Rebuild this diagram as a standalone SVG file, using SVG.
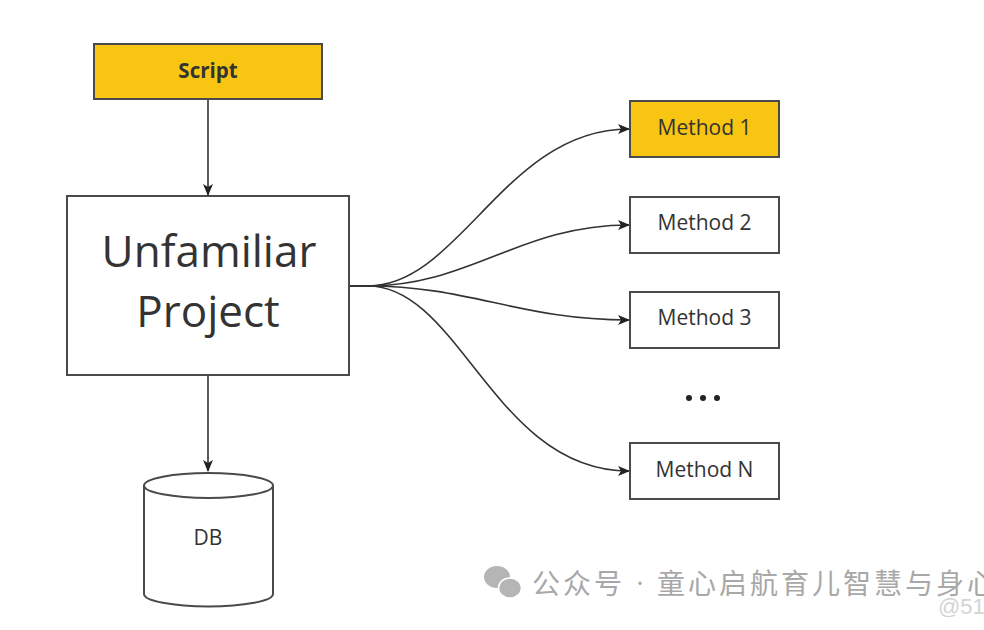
<svg xmlns="http://www.w3.org/2000/svg" width="984" height="630" viewBox="0 0 984 630">
  <defs>
    <marker id="arr" viewBox="0 0 12 10" refX="11" refY="5" markerWidth="12" markerHeight="10" markerUnits="userSpaceOnUse" orient="auto">
      <path d="M0,0 L12,5 L0,10 L3,5 Z" fill="#222"/>
    </marker>
    <style>
      .box { stroke: #4a4a4a; stroke-width: 2; }
      .yel { fill: #F8C512; }
      .wht { fill: #fff; }
      .lbl { font-family: "Open Sans", "Noto Sans", sans-serif; fill: #333; text-anchor: middle; }
      .conn { fill: none; stroke: #333; stroke-width: 1.6; marker-end: url(#arr); }
      .wm { font-family: "Noto Sans CJK SC", "Noto Sans", sans-serif; fill: #a8a8a8; }
    </style>
  </defs>
  <rect width="984" height="630" fill="#fff"/>

  <g id="connectors">
    <path class="conn" d="M208,99 L208,195"/>
    <path class="conn" d="M208,375 L208,471"/>
    <path class="conn" d="M349,286 L368,286 C460,286 505,129 629,129"/>
    <path class="conn" d="M349,286 L368,286 C470,286 520,225 629,225"/>
    <path class="conn" d="M349,286 L368,286 C470,286 520,320 629,320"/>
    <path class="conn" d="M349,286 L368,286 C460,286 495,471 629,471"/>
  </g>

  <g id="script">
    <rect class="box yel" x="94" y="44" width="228" height="55"/>
    <text class="lbl" x="208" y="78" font-size="20.5" font-weight="bold" fill="#222">Script</text>
  </g>

  <g id="project">
    <rect class="box wht" x="67" y="196" width="282" height="179"/>
    <text class="lbl" x="209" y="267" font-size="44">Unfamiliar</text>
    <text class="lbl" x="208" y="327" font-size="44">Project</text>
  </g>

  <g id="db">
    <path class="box wht" d="M144,485.5 L144,594 A64.5,12.5 0 0 0 273,594 L273,485.5"/>
    <ellipse class="box wht" cx="208.5" cy="485.5" rx="64.5" ry="12.5"/>
    <text class="lbl" x="208" y="545" font-size="21">DB</text>
  </g>

  <g id="method1">
    <rect class="box yel" x="630" y="101" width="149" height="56"/>
    <text class="lbl" x="704.5" y="135" font-size="21">Method 1</text>
  </g>
  <g id="method2">
    <rect class="box wht" x="630" y="197" width="149" height="56"/>
    <text class="lbl" x="704.5" y="230" font-size="21">Method 2</text>
  </g>
  <g id="method3">
    <rect class="box wht" x="630" y="292" width="149" height="56"/>
    <text class="lbl" x="704.5" y="325" font-size="21">Method 3</text>
  </g>
  <g id="ellipsis">
    <circle cx="689" cy="398" r="3" fill="#222"/>
    <circle cx="703" cy="398" r="3" fill="#222"/>
    <circle cx="717" cy="398" r="3" fill="#222"/>
  </g>
  <g id="methodN">
    <rect class="box wht" x="630" y="443" width="149" height="56"/>
    <text class="lbl" x="704.5" y="477" font-size="21">Method N</text>
  </g>

  <g id="watermark">
    <ellipse cx="497" cy="577" rx="13" ry="11" fill="#b5b5b5"/>
    <ellipse cx="510" cy="588" rx="11.5" ry="10" fill="#b5b5b5" stroke="#fff" stroke-width="1.5"/>
    <text class="wm" x="532" y="594" font-size="28" letter-spacing="3">公众号</text>
    <text x="640" y="592" font-family="Noto Sans, sans-serif" font-size="26" fill="#a8a8a8" text-anchor="middle">·</text>
    <text class="wm" x="657" y="594" font-size="28" letter-spacing="3">童心启航育儿智慧与身心</text>
    <text x="938" y="614" font-family="Liberation Sans, sans-serif" font-size="22" fill="#d4d4d4">@51</text>
  </g>
</svg>
